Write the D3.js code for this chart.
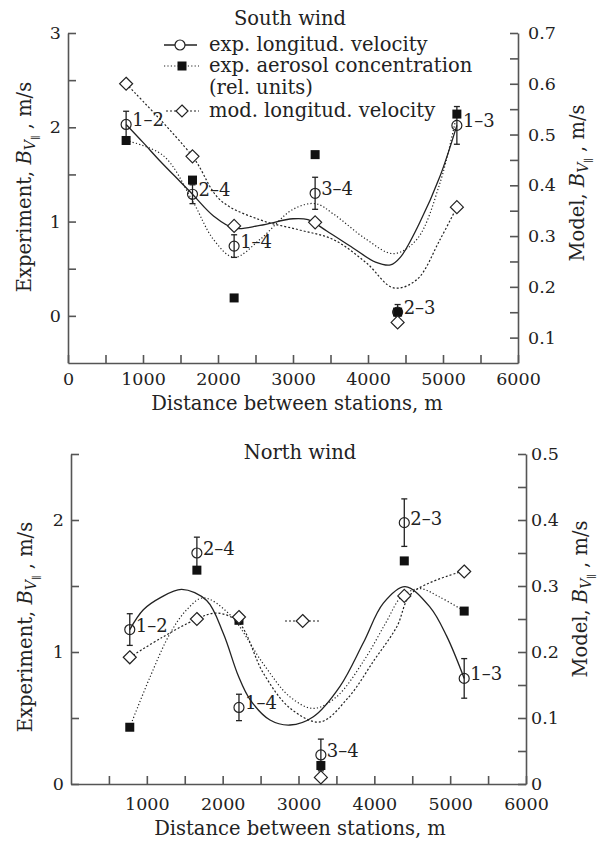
<!DOCTYPE html>
<html>
<head>
<meta charset="utf-8">
<script src="https://cdn.jsdelivr.net/npm/d3@7"></script>
<style>
body { margin: 0; background: #fff; }
text { font-family: "DejaVu Serif", serif; fill: #222; }
</style>
</head>
<body>
<svg id="chart" width="597" height="841"></svg>
<script>
// station pairs and distances between them (m)
var stations = ["1–2", "2–4", "1–4", "3–4", "2–3", "1–3"];
var distances = [775, 1660, 2215, 3295, 4395, 5185];

// South wind
var southVel = [2.03, 1.29, 0.74, 1.30, 0.04, 2.02];
var southVelErr = [0.14, 0.10, 0.12, 0.17, 0.08, 0.20];
var southAerosol = [1.86, 1.44, 0.19, 1.71, 0.04, 2.14];
var southModel = [0.60, 0.457, 0.32, 0.327, 0.13, 0.357];

// fitted curves
var southVelFitX = [775, 1000, 1230, 1500, 1660, 1940, 2220, 2560, 3000, 3200, 3450, 3800, 4100, 4300, 4430, 4690, 4960, 5185];
var southVelFitY = [2.03, 1.84, 1.64, 1.42, 1.29, 1.06, 0.93, 0.96, 1.03, 1.02, 0.90, 0.72, 0.57, 0.54, 0.62, 0.99, 1.48, 2.02];
var southAerosolFitX = [775, 1270, 1660, 1940, 2215, 2560, 3000, 3300, 3540, 3980, 4340, 4650, 4960, 5185];
var southAerosolFitY = [1.86, 1.70, 1.22, 0.81, 0.62, 0.81, 1.13, 1.19, 1.08, 0.81, 0.66, 0.81, 1.41, 2.14];
var southModelFitX = [775, 1660, 2030, 2560, 3090, 3540, 3980, 4340, 4650, 4960, 5185];
var southModelFitY = [0.60, 0.457, 0.371, 0.332, 0.312, 0.293, 0.247, 0.198, 0.214, 0.293, 0.357];

// North wind
var northVel = [1.17, 1.75, 0.58, 0.22, 1.98, 0.80];
var northVelErr = [0.12, 0.12, 0.10, 0.12, 0.18, 0.15];
var northAerosol = [0.43, 1.62, 1.24, 0.14, 1.69, 1.31];
var northModel = [0.192, 0.25, 0.253, 0.01, 0.285, 0.322];

var northVelFitX = [775, 954, 1174, 1460, 1789, 2009, 2206, 2361, 2624, 2888, 3196, 3547, 3855, 4119, 4405, 4734, 4954, 5185];
var northVelFitY = [1.17, 1.32, 1.41, 1.475, 1.39, 1.14, 0.82, 0.64, 0.485, 0.447, 0.51, 0.74, 1.07, 1.37, 1.495, 1.34, 1.12, 0.80];
var northAerosolFitX = [775, 1042, 1306, 1526, 1745, 2100, 2536, 2888, 3196, 3500, 3868, 4150, 4360, 4600, 4850, 5185];
var northAerosolFitY = [0.43, 0.81, 1.14, 1.32, 1.41, 1.28, 0.91, 0.66, 0.573, 0.66, 0.94, 1.22, 1.42, 1.48, 1.42, 1.31];
var northModelFitX = [775, 1200, 1660, 1921, 2210, 2536, 2888, 3284, 3650, 4000, 4295, 4493, 5185];
var northModelFitY = [0.192, 0.222, 0.25, 0.259, 0.245, 0.168, 0.115, 0.094, 0.13, 0.188, 0.238, 0.289, 0.323];
// stray diamond with short dotted line in the north panel
var northStrayX = [2822, 3055, 3284];
var northStrayY = [0.247, 0.247, 0.247];

var legendLabels = ["exp. longitud. velocity", "exp. aerosol concentration", "(rel. units)", "mod. longitud. velocity"];

var svg = d3.select("#chart");
var ink = "#222";
var axisInk = "#555";
var aerosolDash = "1.2,2.2";
var modelDash = "2,2";
var textSize = 19.5;
var tickSize = 17.5;

function pairs(xs, ys) {
  return xs.map(function(d, i) { return [d, ys[i]]; });
}

function diamondPath(cx, cy, s) {
  return "M" + cx + "," + (cy - s) + "L" + (cx + s) + "," + cy + "L" + cx + "," + (cy + s) + "L" + (cx - s) + "," + cy + "Z";
}

function styleAxis(sel) {
  sel.attr("font-family", "'DejaVu Serif', serif").attr("font-size", tickSize);
  sel.selectAll("path, line").attr("stroke", axisInk).attr("stroke-width", 1.6);
  sel.selectAll("text").attr("fill", ink);
}

function sideLabel(g, first, cx, cy) {
  var t = g.append("text")
    .attr("transform", "translate(" + cx + "," + cy + ") rotate(-90)")
    .attr("text-anchor", "middle")
    .attr("font-size", textSize);
  t.append("tspan").text(first + " ");
  t.append("tspan").attr("font-style", "italic").text("B");
  t.append("tspan").attr("font-style", "italic").attr("font-size", 14).attr("dy", 4).text("V");
  t.append("tspan").attr("font-size", 10).attr("dy", 4).text("∥");
  t.append("tspan").attr("dy", -8).text(" , m/s");
}

function drawPanel(p) {
  var g = svg.append("g");
  var x = d3.scaleLinear().domain([0, 6000]).range([p.left, p.right]);
  var yL = d3.scaleLinear().domain(p.yLeft).range([p.bottom, p.top]);
  var yR = d3.scaleLinear().domain(p.yRight).range([p.bottom, p.top]);

  // axes (ticks inside, labels outside)
  g.append("g").attr("transform", "translate(0," + p.bottom + ")")
    .call(d3.axisBottom(x).tickValues(p.xTicks).tickSize(-8).tickSizeOuter(0).tickPadding(p.xPad)
      .tickFormat(function(d) { return (d % 1000 === 0 && p.xLabelled(d)) ? d : ""; }))
    .call(styleAxis);

  g.append("g").attr("transform", "translate(" + p.left + ",0)")
    .call(d3.axisLeft(yL).tickValues(p.yLeftTicks).tickSize(-8).tickSizeOuter(0).tickPadding(7)
      .tickFormat(function(d) { return Number.isInteger(d) ? d : ""; }))
    .call(styleAxis);

  g.append("g").attr("transform", "translate(" + p.right + ",0)")
    .call(d3.axisRight(yR).tickValues(p.yRightTicks).tickSize(-8).tickSizeOuter(0).tickPadding(p.rightPad)
      .tickFormat(function(d) {
        var k = Math.round(d * 100);
        if (k % 10 !== 0) return "";
        return k === 0 ? "0" : d3.format(".1f")(d);
      }))
    .call(styleAxis);

  // titles and axis labels
  g.append("text").attr("x", p.titleX).attr("y", p.titleY).attr("text-anchor", "middle")
    .attr("font-size", textSize).text(p.title);
  g.append("text").attr("x", p.xLabelX).attr("y", p.xLabelY).attr("text-anchor", "middle")
    .attr("font-size", textSize).text("Distance between stations, m");
  sideLabel(g, "Experiment,", p.leftLabelX, p.leftLabelY);
  sideLabel(g, "Model,", p.rightLabelX, p.rightLabelY);

  // curves
  var lineL = d3.line().x(function(d) { return x(d[0]); }).y(function(d) { return yL(d[1]); })
    .curve(d3.curveCatmullRom.alpha(0.5));
  var lineR = d3.line().x(function(d) { return x(d[0]); }).y(function(d) { return yR(d[1]); })
    .curve(d3.curveCatmullRom.alpha(0.5));

  g.append("path").attr("d", lineL(pairs(p.velFitX, p.velFitY)))
    .attr("fill", "none").attr("stroke", ink).attr("stroke-width", 1.3);
  g.append("path").attr("d", lineL(pairs(p.aerFitX, p.aerFitY)))
    .attr("fill", "none").attr("stroke", ink).attr("stroke-width", 1.2).attr("stroke-dasharray", aerosolDash);
  g.append("path").attr("d", lineR(pairs(p.modFitX, p.modFitY)))
    .attr("fill", "none").attr("stroke", ink).attr("stroke-width", 1.2).attr("stroke-dasharray", modelDash);

  var data = stations.map(function(s, i) {
    return { name: s, d: distances[i], vel: p.vel[i], err: p.err[i], aer: p.aer[i], mod: p.mod[i] };
  });

  // error bars
  var eb = g.append("g").attr("stroke", ink).attr("stroke-width", 1.3);
  data.forEach(function(d) {
    var cx = x(d.d), y0 = yL(d.vel - d.err), y1 = yL(d.vel + d.err);
    eb.append("line").attr("x1", cx).attr("x2", cx).attr("y1", y0).attr("y2", y1);
    eb.append("line").attr("x1", cx - 3).attr("x2", cx + 3).attr("y1", y0).attr("y2", y0);
    eb.append("line").attr("x1", cx - 3).attr("x2", cx + 3).attr("y1", y1).attr("y2", y1);
  });

  g.selectAll("circle.vel").data(data).enter().append("circle").attr("class", "vel")
    .attr("cx", function(d) { return x(d.d); })
    .attr("cy", function(d) { return yL(d.vel); })
    .attr("r", 5).attr("fill", "none").attr("stroke", ink).attr("stroke-width", 1.2);

  g.selectAll("rect.aer").data(data).enter().append("rect").attr("class", "aer")
    .attr("x", function(d) { return x(d.d) - 4.5; })
    .attr("y", function(d) { return yL(d.aer) - 4.5; })
    .attr("width", 9).attr("height", 9).attr("fill", "#111");

  g.selectAll("path.mod").data(data).enter().append("path").attr("class", "mod")
    .attr("d", function(d) { return diamondPath(x(d.d), yR(d.mod), 6.5); })
    .attr("fill", "#fff").attr("stroke", ink).attr("stroke-width", 1.2);

  if (p.strayX) {
    g.append("line").attr("x1", x(p.strayX[0])).attr("x2", x(p.strayX[2]))
      .attr("y1", yR(p.strayY[0])).attr("y2", yR(p.strayY[2]))
      .attr("stroke", ink).attr("stroke-width", 1.2).attr("stroke-dasharray", modelDash);
    g.append("path").attr("d", diamondPath(x(p.strayX[1]), yR(p.strayY[1]), 6.5))
      .attr("fill", "#fff").attr("stroke", ink).attr("stroke-width", 1.2);
  }

  // station labels
  g.selectAll("text.st").data(data).enter().append("text").attr("class", "st")
    .attr("x", function(d) { return x(d.d) + 6; })
    .attr("y", function(d) { return yL(d.vel) + 2; })
    .attr("font-size", 18).text(function(d) { return d.name; });

  // legend
  if (p.legend) {
    var lg = g.append("g");
    var rows = [p.top + 12, p.top + 33, p.top + 55, p.top + 78];
    lg.append("line").attr("x1", 164).attr("x2", 197).attr("y1", rows[0]).attr("y2", rows[0])
      .attr("stroke", ink).attr("stroke-width", 1.3);
    lg.append("circle").attr("cx", 180).attr("cy", rows[0]).attr("r", 5)
      .attr("fill", "#fff").attr("stroke", ink).attr("stroke-width", 1.2);
    lg.append("line").attr("x1", 164).attr("x2", 199).attr("y1", rows[1]).attr("y2", rows[1])
      .attr("stroke", ink).attr("stroke-width", 1.2).attr("stroke-dasharray", aerosolDash);
    lg.append("rect").attr("x", 177.5).attr("y", rows[1] - 4.5).attr("width", 9).attr("height", 9).attr("fill", "#111");
    lg.append("line").attr("x1", 166).attr("x2", 199).attr("y1", rows[3]).attr("y2", rows[3])
      .attr("stroke", ink).attr("stroke-width", 1.2).attr("stroke-dasharray", modelDash);
    lg.append("path").attr("d", diamondPath(182, rows[3], 6))
      .attr("fill", "#fff").attr("stroke", ink).attr("stroke-width", 1.2);
    legendLabels.forEach(function(t, i) {
      lg.append("text").attr("x", 209).attr("y", rows[i] + 6).attr("font-size", textSize).text(t);
    });
  }
}

drawPanel({
  title: "South wind", titleX: 290, titleY: 25,
  left: 68, right: 518, top: 33, bottom: 363,
  yLeft: [-0.5, 3], yRight: [0.05, 0.7],
  xTicks: d3.range(0, 6001, 500),
  xLabelled: function(d) { return true; },
  xPad: 10,
  yLeftTicks: [0, 0.5, 1, 1.5, 2, 2.5, 3],
  yRightTicks: d3.range(0.1, 0.701, 0.05),
  rightPad: 10,
  xLabelX: 297, xLabelY: 410,
  leftLabelX: 31, leftLabelY: 187,
  rightLabelX: 584, rightLabelY: 183,
  vel: southVel, err: southVelErr, aer: southAerosol, mod: southModel,
  velFitX: southVelFitX, velFitY: southVelFitY,
  aerFitX: southAerosolFitX, aerFitY: southAerosolFitY,
  modFitX: southModelFitX, modFitY: southModelFitY,
  legend: true
});

drawPanel({
  title: "North wind", titleX: 300, titleY: 459,
  left: 71, right: 526, top: 454, bottom: 784,
  yLeft: [0, 2.5], yRight: [0, 0.5],
  xTicks: d3.range(500, 6001, 500),
  xLabelled: function(d) { return d > 0; },
  xPad: 14,
  yLeftTicks: [0, 0.5, 1, 1.5, 2, 2.5],
  yRightTicks: d3.range(0, 0.501, 0.05),
  rightPad: 5,
  xLabelX: 300, xLabelY: 835,
  leftLabelX: 32, leftLabelY: 627,
  rightLabelX: 587, rightLabelY: 599,
  vel: northVel, err: northVelErr, aer: northAerosol, mod: northModel,
  velFitX: northVelFitX, velFitY: northVelFitY,
  aerFitX: northAerosolFitX, aerFitY: northAerosolFitY,
  modFitX: northModelFitX, modFitY: northModelFitY,
  strayX: northStrayX, strayY: northStrayY,
  legend: false
});
</script>
</body>
</html>
